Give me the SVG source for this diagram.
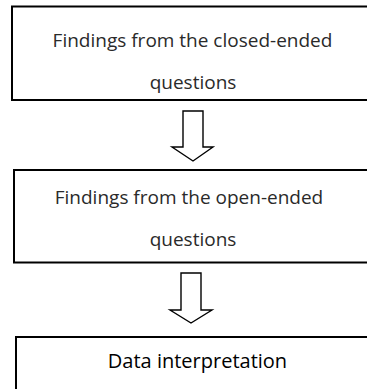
<svg xmlns="http://www.w3.org/2000/svg" width="367" height="389" viewBox="0 0 367 389">
<style>
.box{fill:#fff;stroke:#000;stroke-width:2}
.arr{fill:#fff;stroke:#000;stroke-width:1.4;stroke-linejoin:miter}
.t{font-family:"Open Sans","Noto Sans",sans-serif;font-size:19px;fill:#2a2a2a;text-anchor:middle}
.b{font-weight:500;fill:#000;font-size:20px}
</style>
<rect width="367" height="389" fill="#fff"/>
<g id="node1">
<rect class="box" x="12" y="6.5" width="362" height="93.5"/>
<text class="t" x="192.5" y="47">Findings from the closed-ended</text>
<text class="t" x="193" y="89">questions</text>
</g>
<g id="node2">
<rect class="box" x="14" y="170" width="362" height="92.5"/>
<text class="t" x="189" y="204">Findings from the open-ended</text>
<text class="t" x="193" y="246">questions</text>
</g>
<g id="node3">
<rect class="box" x="16" y="337" width="362" height="60"/>
<text class="t b" x="197.5" y="368">Data interpretation</text>
</g>
<g id="connectors">
<path class="arr" d="M183,111 H203 V147 H213 L193,161 L172,147 H183 Z"/>
<path class="arr" d="M181,273 H201 V310 H212 L191,323 L170,310 H181 Z"/>
</g>
</svg>
